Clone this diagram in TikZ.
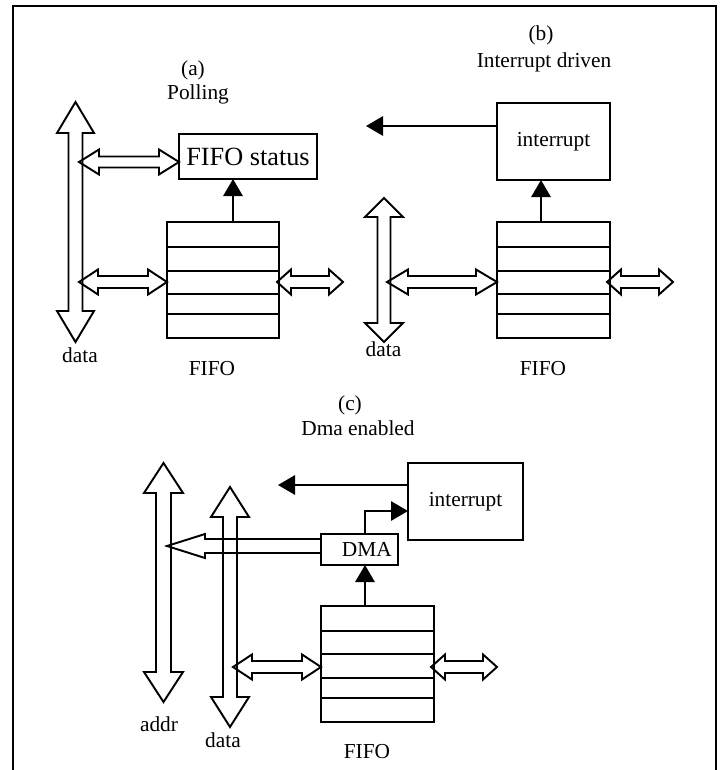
\documentclass[tikz,border=0pt]{standalone}
\usepackage{fontspec}
\setmainfont{Liberation Serif}
\usetikzlibrary{arrows.meta}
\begin{document}
\begin{tikzpicture}[x=0.75pt, y=-0.75pt, line width=1.45pt,
  every node/.style={font=\fontsize{16}{18}\selectfont, inner sep=0pt, outer sep=0pt},
  box/.style 2 args={draw, minimum width=#1*0.75pt, minimum height=#2*0.75pt},
  sig/.style={-{Triangle[length=12.75pt,width=14.5pt]}},
  % outlined two-headed bus arrow, horizontal: {length}{shaft half}{head half}{head length}
  pics/hdbl/.style n args={4}{code={
    \draw (0,0) -- (#4,#3) -- (#4,#2) -- (#1-#4,#2) -- (#1-#4,#3) -- (#1,0)
      -- (#1-#4,-#3) -- (#1-#4,-#2) -- (#4,-#2) -- (#4,-#3) -- cycle;}},
  % the same, vertical, drawn downwards from the top tip
  pics/vdbl/.style n args={4}{code={
    \draw (0,0) -- (#3,#4) -- (#2,#4) -- (#2,#1-#4) -- (#3,#1-#4) -- (0,#1)
      -- (-#3,#1-#4) -- (-#2,#1-#4) -- (-#2,#4) -- (-#3,#4) -- cycle;}},
]
\useasboundingbox (0,0) rectangle (722,770);

% outer frame, open at the bottom
\draw[line width=1.6pt] (13,770) -- (13,6) -- (716,6) -- (716,770);

% ---------------- (a) Polling ----------------
\node (titA) at (193,70) {(a)};
\node (subA) at (198,94) {Polling};
\pic at (75.5,102) {vdbl={240}{7}{18.5}{31}};
\node[box={138}{45}, font=\fontsize{19.7}{22}\selectfont] (statusA) at (248,156.5) {FIFO status};
\pic at (79,162) {hdbl={100}{5.5}{12.5}{20}};
\node[box={112}{116}] (fifoA) at (223,280) {};
\foreach \d in {25,49,72,92}
  \draw ([yshift=-\d*0.75pt]fifoA.north west) -- ([yshift=-\d*0.75pt]fifoA.north east);
\draw[sig] (233,0 |- fifoA.north) -- (233,0 |- statusA.south);
\pic at (79,282) {hdbl={88}{6}{12.5}{19}};
\pic at (277,282) {hdbl={66}{6}{12.5}{14}};
\node (dataA) at (80,355) {data};
\node (labA) at (212,369) {FIFO};

% ---------------- (b) Interrupt driven ----------------
\node (titB) at (541,35) {(b)};
\node (subB) at (544,62) {Interrupt driven};
\node[box={113}{77}] (intB) at (553.5,141.5) {interrupt};
\coordinate (outB) at (366,126);
\draw[sig] (intB.west |- outB) -- (outB);
\node[box={113}{116}] (fifoB) at (553.5,280) {};
\foreach \d in {25,49,72,92}
  \draw ([yshift=-\d*0.75pt]fifoB.north west) -- ([yshift=-\d*0.75pt]fifoB.north east);
\draw[sig] (541,0 |- fifoB.north) -- (541,0 |- intB.south);
\pic at (384,198) {vdbl={144}{6.5}{19}{19}};
\pic at (387,282) {hdbl={110}{6}{12.5}{21}};
\pic at (607,282) {hdbl={66}{6}{12.5}{14}};
\node (dataB) at (383.5,349) {data};
\node (labB) at (543,369) {FIFO};

% ---------------- (c) Dma enabled ----------------
\node (titC) at (350,405) {(c)};
\node (subC) at (358,428) {Dma enabled};
\pic at (163.5,463) {vdbl={239}{7.5}{19.5}{30}};
\pic at (230,487) {vdbl={240}{7}{19}{30}};
\node[box={115}{77}] (intC) at (465.5,501.5) {interrupt};
\coordinate (outC) at (278,485);
\draw[sig] (intC.west |- outC) -- (outC);
\node[box={77}{31}, label={[xshift=5.5pt]center:DMA}] (dma) at (359.5,549.5) {};
\draw[sig] (365,0 |- dma.north) |- (intC.west |- 0,511);
% address output of the DMA unit onto the addr bus
\draw (dma.west |- 0,539) -- (205,539) -- (205,534) -- (167,546) -- (205,558)
  -- (205,553) -- (dma.west |- 0,553);
\node[box={113}{116}] (fifoC) at (377.5,664) {};
\foreach \d in {25,48,72,92}
  \draw ([yshift=-\d*0.75pt]fifoC.north west) -- ([yshift=-\d*0.75pt]fifoC.north east);
\draw[sig] (365,0 |- fifoC.north) -- (365,0 |- dma.south);
\pic at (233,667) {hdbl={88}{6}{12.5}{19}};
\pic at (431,667) {hdbl={66}{6}{12.5}{14}};
\node (addrC) at (159,724) {addr};
\node (dataC) at (223,740) {data};
\node (labC) at (367,752) {FIFO};
\end{tikzpicture}
\end{document}
